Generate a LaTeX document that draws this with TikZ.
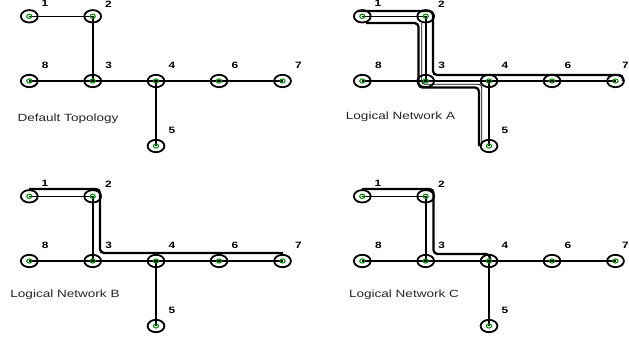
\documentclass[tikz,border=0pt]{standalone}
\usepackage{fontspec}
\setmainfont{Liberation Sans}[FakeStretch=1.29]
\usetikzlibrary{shapes.geometric,backgrounds}
\definecolor{dotgreen}{RGB}{0,140,0}
\tikzset{
  x=1pt, y=-1pt,
  nd/.style={ellipse, draw, line width=1.8pt, minimum width=16.8pt, minimum height=12.4pt, inner sep=0pt,
    path picture={\draw[dotgreen, line width=1.05pt] (path picture bounding box.center) ellipse (2.6pt and 2.1pt);}},
  num/.style={font=\bfseries\fontsize{9.2}{10}\selectfont, inner sep=0pt},
  captext/.style={font=\fontsize{10.5}{12}\selectfont, inner sep=0pt, text=black!85},
  lnthin/.style={line width=1pt},
  lnmid/.style={line width=1.4pt},
  lnthick/.style={line width=2pt},
  lognet/.style={line width=2.3pt, rounded corners=4pt},
  lognetfine/.style={line width=0.8pt, rounded corners=3pt},
}
\newcommand\netpanel[4]{% prefix, dx, dy, x of label 7
  \begin{scope}[shift={(#2,#3)}]
    \node[nd] (#1n1) at (29.3,16.3) {};
    \node[nd] (#1n2) at (92.7,16.3) {};
    \node[nd] (#1n8) at (29.3,81) {};
    \node[nd] (#1n3) at (92.7,81) {};
    \node[nd] (#1n4) at (156,81) {};
    \node[nd] (#1n6) at (219,81) {};
    \node[nd] (#1n7) at (282.5,81) {};
    \node[nd] (#1n5) at (156,146) {};
    \node[num] (#1l1) at (45,3.8) {1};
    \node[num] (#1l2) at (108.5,3.8) {2};
    \node[num] (#1l8) at (45.3,65.5) {8};
    \node[num] (#1l3) at (108.7,65.5) {3};
    \node[num] (#1l4) at (172,65.5) {4};
    \node[num] (#1l6) at (235,65.5) {6};
    \node[num] (#1l7) at (#4,65.5) {7};
    \node[num] (#1l5) at (172,130.5) {5};
    \begin{pgfonlayer}{background}
      \draw[lnthin] (#1n1.center) -- (#1n2.center);
      \draw[lnthick] (#1n2.center) -- (#1n3.center);
      \draw[lnmid] (#1n8.center) -- (#1n3.center);
      \draw[lnmid] (#1n3.center) -- (#1n4.center);
      \draw[lnmid] (#1n4.center) -- (#1n6.center);
      \draw[lnmid] (#1n6.center) -- (#1n7.center);
      \draw[lnthick] (#1n4.center) -- (#1n5.center);
    \end{pgfonlayer}
  \end{scope}}
\begin{document}
\begin{tikzpicture}
\useasboundingbox (0,0) rectangle (629,343);
% Default topology
\netpanel{d}{0}{0}{298.5}
\node[captext] (capd) at (68,119) {Default Topology};
% Logical network A
\netpanel{a}{333}{0}{292.5}
\node[captext] (capa) at (400.5,117) {Logical Network A};
\begin{pgfonlayer}{background}
\begin{scope}[shift={(333,0)}]
  \draw[lognet] (25,11) -- (100,11) -- (100,75) -- (290,75) -- (290,81);
  \draw[lognet] (33,23) -- (85.5,23) -- (85.5,87.5) -- (146,87.5) -- (146,146);
  \draw[lognetfine] (88.7,23) -- (88.7,84.3) -- (148.7,84.3) -- (148.7,146);
\end{scope}
\end{pgfonlayer}
% Logical network B
\netpanel{b}{0}{180}{298.5}
\node[captext] (capb) at (65,294.3) {Logical Network B};
\begin{pgfonlayer}{background}
\begin{scope}[shift={(0,180)}]
  \draw[lognet] (29,9) -- (100,9) -- (100,73) -- (283,73);
\end{scope}
\end{pgfonlayer}
% Logical network C
\netpanel{c}{333}{180}{292.5}
\node[captext] (capc) at (404,295) {Logical Network C};
\begin{pgfonlayer}{background}
\begin{scope}[shift={(333,180)}]
  \draw[lognet] (29,9) -- (100.5,9) -- (100.5,74) -- (157,74) -- (157,77);
\end{scope}
\end{pgfonlayer}
\end{tikzpicture}
\end{document}
